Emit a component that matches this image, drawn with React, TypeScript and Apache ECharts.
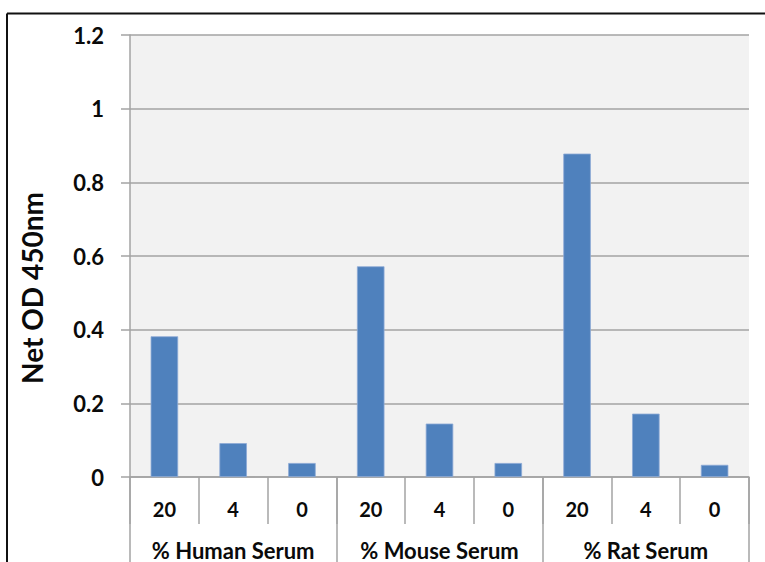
import React, { useEffect, useRef } from "react";
import * as echarts from "echarts";

const categories = ["20", "4", "0", "20", "4", "0", "20", "4", "0"];
const groups = ["% Human Serum", "% Mouse Serum", "% Rat Serum"];
const values = [0.382, 0.092, 0.038, 0.572, 0.145, 0.038, 0.878, 0.172, 0.033];
const yTitle = "Net OD 450nm";

const FONT = "Lato";
const GRAY = "#A3A3A3";
const TXT = "#0a0a0a";

export default function App() {
  const ref = useRef<HTMLDivElement>(null);
  useEffect(() => {
    if (!ref.current) return;
    const chart = echarts.init(ref.current, null, { renderer: "svg" });
    chart.setOption({
      animation: false,
      backgroundColor: "#ffffff",
      grid: {
        left: 130,
        right: 16,
        top: 35,
        bottom: 85,
        show: true,
        backgroundColor: "#F2F2F2",
        borderWidth: 0,
      },
      xAxis: [
        {
          type: "category",
          data: categories,
          position: "bottom",
          axisLine: { show: true, lineStyle: { color: GRAY, width: 1.5 } },
          axisTick: { show: true, interval: 0, length: 47, lineStyle: { color: GRAY, width: 1.5 } },
          axisLabel: {
            interval: 0,
            margin: 22,
            color: TXT,
            fontFamily: FONT,
            fontWeight: "bold",
            fontSize: 20,
          },
          splitLine: { show: false },
        },
        {
          type: "category",
          data: groups,
          position: "bottom",
          axisLine: { show: false },
          axisTick: { show: true, interval: 0, length: 90, lineStyle: { color: GRAY, width: 1.5 } },
          axisLabel: {
            interval: 0,
            margin: 62,
            color: TXT,
            fontFamily: FONT,
            fontWeight: "bold",
            fontSize: 22,
          },
          splitLine: { show: false },
        },
      ],
      yAxis: {
        type: "value",
        min: 0,
        max: 1.2,
        interval: 0.2,
        axisLine: { show: true, lineStyle: { color: GRAY, width: 1.5 } },
        axisTick: { show: true, length: 9, lineStyle: { color: GRAY, width: 1.5 } },
        axisLabel: {
          margin: 26,
          color: TXT,
          fontFamily: FONT,
          fontWeight: "bold",
          fontSize: 22,
        },
        splitLine: { show: true, lineStyle: { color: GRAY, width: 1.5 } },
      },
      series: [
        {
          type: "bar",
          xAxisIndex: 0,
          data: values,
          barWidth: "40%",
          itemStyle: { color: "#4F81BD", borderColor: "#8DAAD6", borderWidth: 0.8 },
        },
      ],
      graphic: [
        { type: "line", shape: { x1: 7, y1: 13.5, x2: 765, y2: 13.5 }, style: { stroke: "#111", lineWidth: 2 } },
        { type: "line", shape: { x1: 7, y1: 13.5, x2: 7, y2: 562 }, style: { stroke: "#111", lineWidth: 2 } },
        {
          type: "text",
          x: 32,
          y: 288,
          rotation: Math.PI / 2,
          style: {
            text: yTitle,
            fill: TXT,
            font: `bold 28px ${FONT}`,
            align: "center",
            verticalAlign: "middle",
          },
        },
      ],
    });
    return () => chart.dispose();
  }, []);
  return <div ref={ref} style={{ width: 765, height: 562, position: "absolute", left: 0, top: 0 }} />;
}
